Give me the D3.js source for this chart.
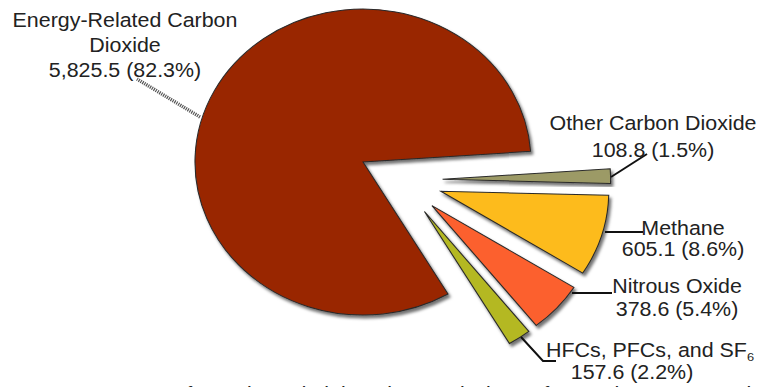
<!DOCTYPE html>
<html>
<head>
<meta charset="utf-8">
<script src="https://cdn.jsdelivr.net/npm/d3@7"></script>
<style>
  html, body { margin: 0; padding: 0; background: #fff; }
  svg { display: block; }
  text { font-family: "Liberation Sans", Arial, sans-serif; fill: #222; }
</style>
</head>
<body>
<svg id="chart" width="762" height="387"></svg>
<script>
// ---------------- data ----------------
const categories = ["Other Carbon Dioxide", "Methane", "Nitrous Oxide", "HFCs, PFCs, and SF6", "Energy-Related Carbon Dioxide"];
const values = [108.8, 605.1, 378.6, 157.6, 5825.5];
const colors = ["#9c9a66", "#fdbb1a", "#fc602d", "#b4b824", "#992600"];
const labelLines = [
  ["Other Carbon Dioxide"],
  ["Methane"],
  ["Nitrous Oxide"],
  ["HFCs, PFCs, and SF|6"],
  ["Energy-Related Carbon", "Dioxide"]
];
const sourceNote = "Source: Energy Information Administration, Emissions of Greenhouse Gases in the United States 2008";

// ---------------- layout ----------------
const W = 762, H = 387;
const cx = 363, cy = 162;
const R = 153;            // vertical radius
const sx = 168 / 153;     // horizontal stretch of the picture
const startDeg = 86;      // first slice starts just above 3 o'clock
const groupExplode = 39, sliceExplode = 38;
const fontSize = 19.5;

// label anchors (screen coords, centre of first line), line heights, last-line x shift
const labelPos = [
  {x: 653, y: 123, lh: 27, dx2: 0},
  {x: 683, y: 228, lh: 21, dx2: 0},
  {x: 677, y: 286, lh: 23, dx2: 0},
  {x: 650, y: 350, lh: 22, dx2: -18},
  {x: 125, y: 20, lh: 25, dx2: 0}
];
// leader polylines (screen coords)
const leaders = [
  {pts: [[611, 177], [647, 154]], style: "solid"},
  {pts: [[605, 232], [643, 232]], style: "solid"},
  {pts: [[572, 293], [612, 293]], style: "solid"},
  {pts: [[521, 337], [543, 361], [556, 361]], style: "solid"},
  {pts: [[200, 117], [137, 79]], style: "hatch"}
];

const svg = d3.select("#chart");
const defs = svg.append("defs");
const f = defs.append("filter").attr("id", "shadow")
  .attr("x", "-20%").attr("y", "-20%").attr("width", "140%").attr("height", "140%");
f.append("feDropShadow").attr("dx", 2).attr("dy", 3).attr("stdDeviation", 1.4)
  .attr("flood-color", "#000").attr("flood-opacity", 0.55);

const total = d3.sum(values);
const fmtVal = d3.format(",.1f");
const fmtPct = d3.format(".1%");

const a0 = startDeg * Math.PI / 180;
const pie = d3.pie().sort(null).value(d => d).startAngle(a0).endAngle(a0 + 2 * Math.PI);
const arcs = pie(values);
const arc = d3.arc().innerRadius(0).outerRadius(R);

// exploded group = all slices except the last (energy CO2)
const small = arcs.slice(0, 4);
const gMid = (small[0].startAngle + small[small.length - 1].endAngle) / 2;

const pieG = svg.append("g").attr("transform", `translate(${cx},${cy}) scale(${sx},1)`);

pieG.selectAll("path.slice")
  .data(arcs)
  .join("path")
  .attr("class", "slice")
  .attr("d", arc)
  .attr("fill", (d, i) => colors[i])
  .attr("stroke", "#2a2a2a")
  .attr("stroke-width", 1)
  .attr("filter", "url(#shadow)")
  .attr("transform", (d, i) => {
    if (i === arcs.length - 1) return null;
    const m = (d.startAngle + d.endAngle) / 2;
    const ox = groupExplode * Math.sin(gMid) + sliceExplode * Math.sin(m);
    const oy = -groupExplode * Math.cos(gMid) - sliceExplode * Math.cos(m);
    return `translate(${ox},${oy})`;
  });

// leaders
const line = d3.line();
svg.selectAll("path.leader")
  .data(leaders)
  .join("path")
  .attr("class", "leader")
  .attr("d", d => line(d.pts))
  .attr("fill", "none")
  .attr("stroke", d => d.style === "hatch" ? "#555" : "#111")
  .attr("stroke-width", d => d.style === "hatch" ? 3.5 : 2)
  .attr("stroke-dasharray", d => d.style === "hatch" ? "1.2,1" : null);

// labels
const labG = svg.append("g");
arcs.forEach((d, i) => {
  const p = labelPos[i];
  const lines = labelLines[i].concat([`${fmtVal(values[i])} (${fmtPct(values[i] / total)})`]);
  const t = labG.append("text")
    .attr("transform", `translate(${p.x},${p.y}) scale(${sx},1)`)
    .attr("text-anchor", "middle")
    .attr("font-size", fontSize);
  lines.forEach((ln, k) => {
    const isLast = k === lines.length - 1;
    const ts = t.append("tspan")
      .attr("x", isLast ? p.dx2 / sx : 0)
      .attr("y", k * p.lh).attr("dy", "0.36em");
    if (ln.includes("|")) {
      const [main, sub] = ln.split("|");
      ts.text(main);
      t.append("tspan").attr("font-size", fontSize * 0.6).attr("dy", "0.3em").text(sub);
    } else {
      ts.text(ln);
    }
  });
});

// source note, cropped at the bottom edge as in the original picture
svg.append("text")
  .attr("transform", `translate(15,401) scale(${sx},1)`)
  .attr("font-size", fontSize)
  .text(sourceNote);
</script>
</body>
</html>
